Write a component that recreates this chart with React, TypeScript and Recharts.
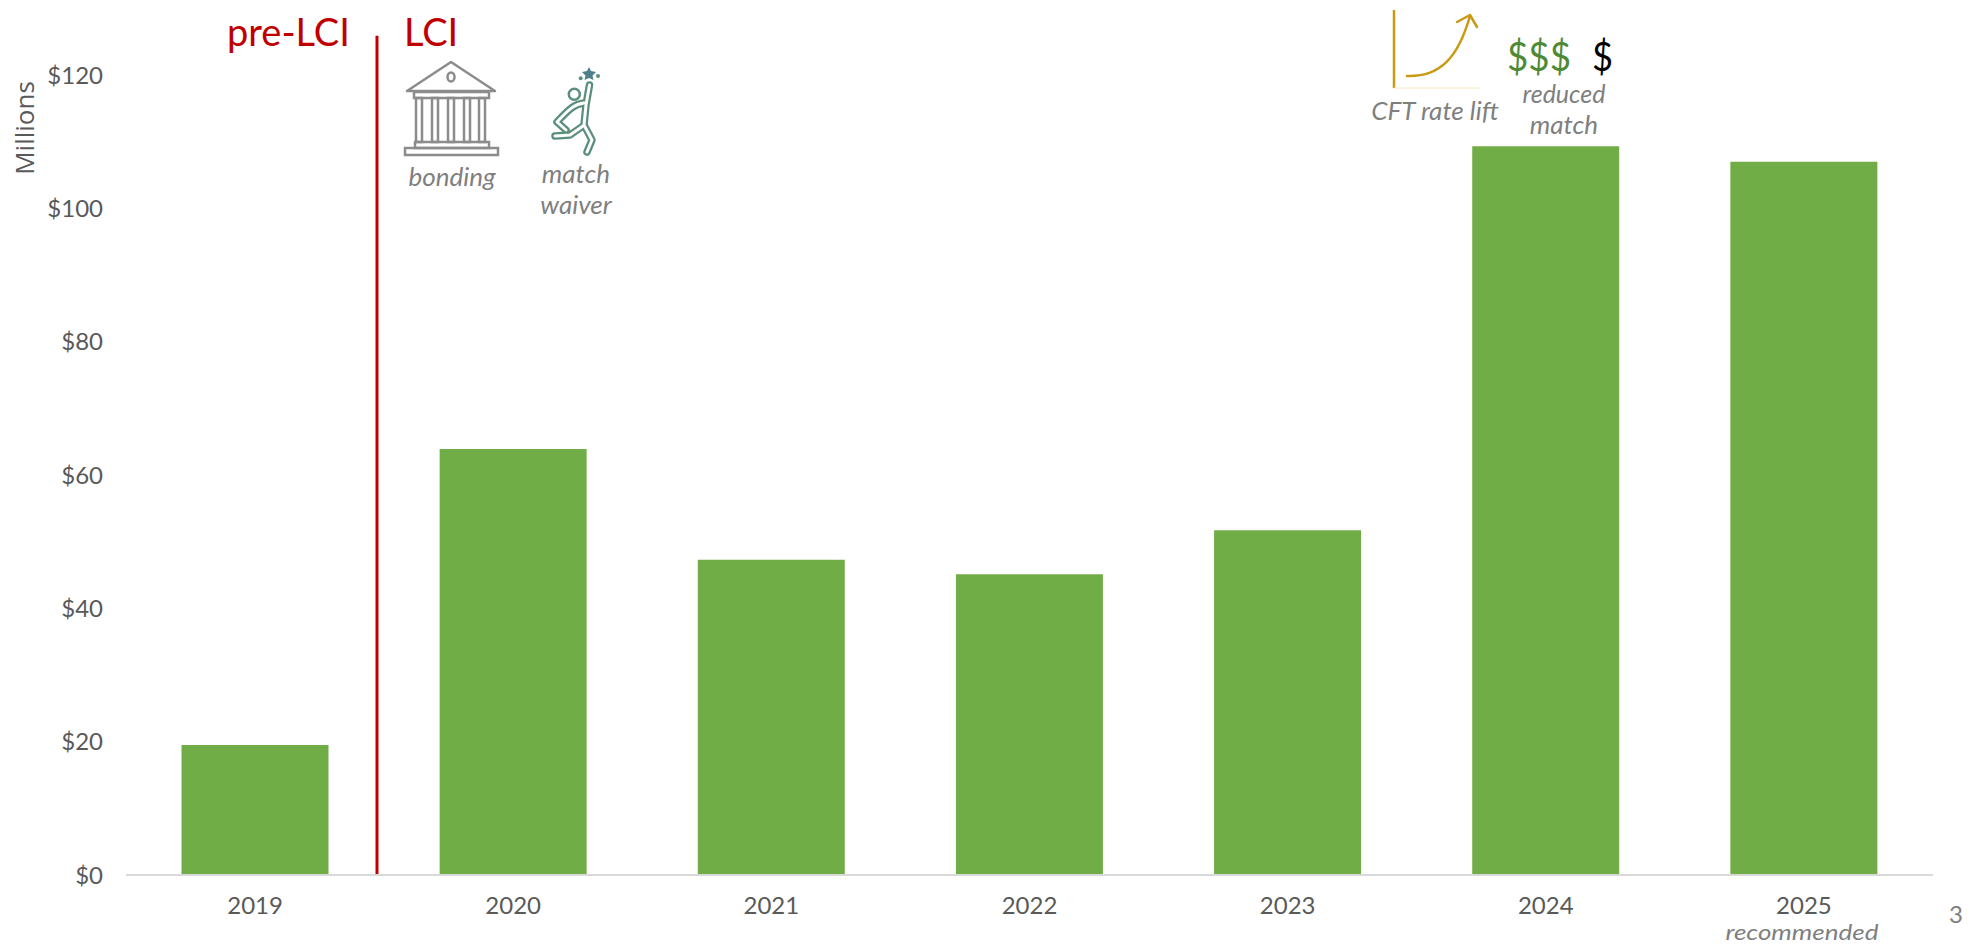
import React from 'react'
import { BarChart, Bar, XAxis, YAxis, ReferenceLine } from 'recharts'

const years = ['2019', '2020', '2021', '2022', '2023', '2024', '2025']
const funding = [19.5, 63.9, 47.3, 45.1, 51.7, 109.3, 107]
const yTicks = [0, 20, 40, 60, 80, 100, 120]
const lciBoundary = 0.8334
const lciLineTop = 125.9

const data = years.map((year, i) => ({ year, funding: funding[i] }))

const GREEN = '#70AD47'
const RED = '#C00000'
const GREY = '#7F7F7F'
const AXIS_TEXT = '#595959'
const GOLD = '#C99A12'
const TEAL = '#5A8F7B'
const FONT = 'Lato, sans-serif'

const Note = ({ x, y, children, size = 26 }: { x: number; y: number; children: string; size?: number }) => (
  <text x={x} y={y} textAnchor="middle" fontFamily={FONT} fontStyle="italic" fontSize={size} fill={GREY}>
    {children}
  </text>
)

const BankIcon = () => (
  <g fill="none" stroke="#8C8C8C" strokeWidth={2.5}>
    <path d="M451 62 L407 91 L495 91 Z" strokeLinejoin="round" />
    <ellipse cx={451} cy={77} rx={3.5} ry={4.5} />
    <rect x={414} y={92} width={75} height={6} />
    {[419, 435, 451, 467, 482].map((x) => (
      <rect key={x} x={x - 3} y={98} width={6} height={44} />
    ))}
    <rect x={415} y={142} width={74} height={6} />
    <rect x={405} y={148} width={93} height={7} />
  </g>
)

const jumperPaths = [
  'M589.5 85 L586 105 L584 125 L592 140 L587 152',
  'M584 103 C575 104 570 108 557 122 L566 130',
  'M583 126 L570 135 L555 136',
]

const JumperIcon = () => (
  <g fill="none" strokeLinecap="round" strokeLinejoin="round">
    {jumperPaths.map((d) => (
      <path key={d} d={d} stroke={TEAL} strokeWidth={7.5} />
    ))}
    {jumperPaths.map((d) => (
      <path key={d} d={d} stroke="#fff" strokeWidth={3} />
    ))}
    <circle cx={574.3} cy={94.3} r={5.5} stroke={TEAL} strokeWidth={2.5} />
    <path d="M589 67 L591 71 L596 72 L592.5 75.5 L593.5 80 L589 78 L584.5 80 L585.5 75.5 L582 72 L587 71 Z" fill="#4F7F8A" />
    <circle cx={580.7} cy={78.3} r={2} fill={TEAL} />
    <circle cx={598} cy={76} r={2} fill={TEAL} />
  </g>
)

const RateIcon = () => (
  <g fill="none" stroke={GOLD} strokeWidth={2.5}>
    <line x1={1394} y1={10} x2={1394} y2={88} />
    <line x1={1394} y1={88} x2={1480} y2={88} stroke="#F5E6BE" strokeWidth={1} />
    <path d="M1407 76 C1440 77 1458 58 1470 16" strokeLinecap="round" />
    <path d="M1457 22 L1470 15 L1477 27" strokeLinecap="round" strokeLinejoin="round" />
  </g>
)

const Annotations = () => (
  <svg width={1977} height={945} style={{ position: 'absolute', left: 0, top: 0, pointerEvents: 'none' }}>
    <text x={24} y={128} transform="rotate(-90 24 128)" dominantBaseline="central" textAnchor="middle" fontFamily="'Open Sans', sans-serif" fontSize={26} fill={AXIS_TEXT}>
      Millions
    </text>
    <text x={227} y={46} fontFamily={FONT} fontSize={38} fill={RED}>pre-LCI</text>
    <text x={404} y={46} fontFamily={FONT} fontSize={38} fill={RED}>LCI</text>
    <BankIcon />
    <JumperIcon />
    <RateIcon />
    <Note x={452} y={186}>bonding</Note>
    <Note x={576} y={183}>match</Note>
    <Note x={576} y={214}>waiver</Note>
    <Note x={1435} y={120}>CFT rate lift</Note>
    <text x={1507} y={71} textLength={64} lengthAdjust="spacingAndGlyphs" fontFamily={FONT} fontSize={40} fill="#4E8A35">$$$</text>
    <text x={1592} y={71} textLength={21} lengthAdjust="spacingAndGlyphs" fontFamily={FONT} fontSize={40} fill="#000">$</text>
    <Note x={1564} y={103} size={25}>reduced</Note>
    <Note x={1564} y={134}>match</Note>
    <text x={1802} y={940} textAnchor="middle" textLength={153} lengthAdjust="spacingAndGlyphs" fontFamily={FONT} fontStyle="italic" fontSize={21} fill={GREY}>recommended</text>
    <text x={1956} y={923} textAnchor="middle" fontFamily={FONT} fontSize={24} fill={GREY}>3</text>
  </svg>
)

export default function App() {
  return (
    <div style={{ position: 'absolute', left: 0, top: 0, width: 1977, height: 945, background: '#fff' }}>
      <BarChart
        width={1977}
        height={945}
        data={data}
        barCategoryGap="21.5%"
        margin={{ top: 75, right: 44, bottom: 0, left: 46 }}
      >
        <XAxis
          dataKey="year"
          height={70}
          interval={0}
          tickLine={false}
          tickMargin={16}
          axisLine={{ stroke: '#D9D9D9', strokeWidth: 2 }}
          tick={{ fontSize: 24, fontFamily: FONT, fill: AXIS_TEXT }}
        />
        <XAxis xAxisId="ref" type="number" domain={[0, 6]} allowDataOverflow hide />
        <YAxis
          width={80}
          domain={[0, 120]}
          ticks={yTicks}
          interval={0}
          tickFormatter={(v: number) => `$${v}`}
          axisLine={false}
          tickLine={false}
          tickMargin={17}
          tick={{ fontSize: 24, fontFamily: FONT, fill: AXIS_TEXT }}
        />
        <Bar dataKey="funding" fill={GREEN} isAnimationActive={false} />
        <ReferenceLine
          xAxisId="ref"
          ifOverflow="visible"
          stroke={RED}
          strokeWidth={3}
          segment={[
            { x: lciBoundary, y: 0 },
            { x: lciBoundary, y: lciLineTop },
          ]}
        />
      </BarChart>
      <Annotations />
    </div>
  )
}
